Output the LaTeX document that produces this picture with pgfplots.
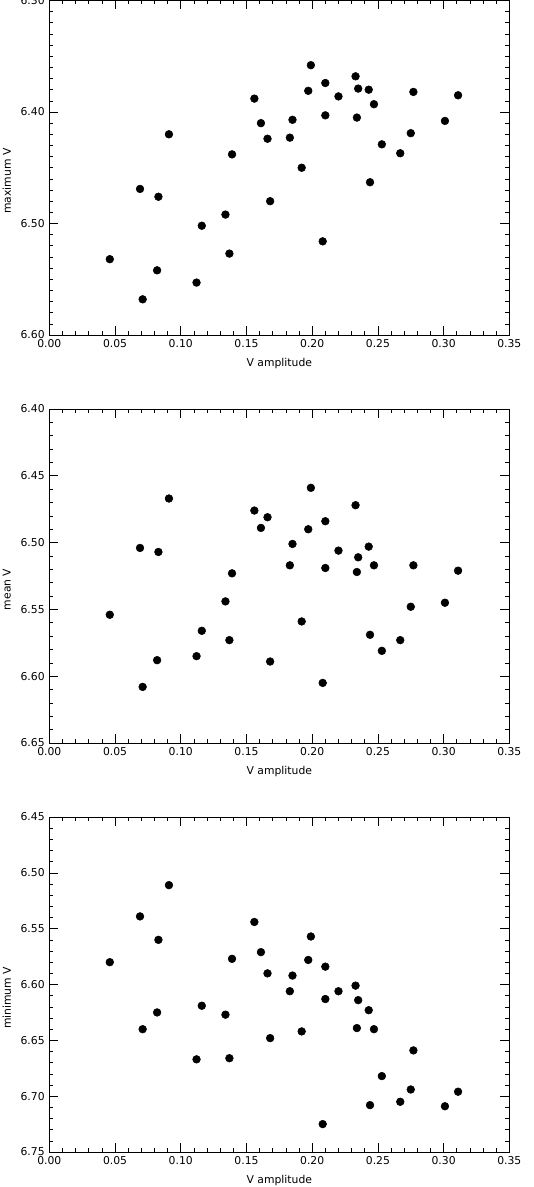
\documentclass[border=0pt]{standalone}
\usepackage{pgfplots}
\pgfplotsset{compat=1.18}
\usepackage{pgfplotstable}
\usepackage{fontspec}
\setmainfont{DejaVu Sans}

% amplitude, maximum, mean, minimum V
\pgfplotstableread{
amp    vmax   vmean  vmin
0.046  6.532  6.554  6.580
0.069  6.469  6.504  6.539
0.071  6.568  6.608  6.640
0.082  6.542  6.588  6.625
0.083  6.476  6.507  6.560
0.091  6.420  6.467  6.511
0.112  6.553  6.585  6.667
0.116  6.502  6.566  6.619
0.134  6.492  6.544  6.627
0.137  6.527  6.573  6.666
0.139  6.438  6.523  6.577
0.156  6.388  6.476  6.544
0.161  6.410  6.489  6.571
0.166  6.424  6.481  6.590
0.168  6.480  6.589  6.648
0.183  6.423  6.517  6.606
0.185  6.407  6.501  6.592
0.192  6.450  6.559  6.642
0.197  6.381  6.490  6.578
0.199  6.358  6.459  6.557
0.208  6.516  6.605  6.725
0.210  6.374  6.484  6.584
0.210  6.403  6.519  6.613
0.220  6.386  6.506  6.606
0.233  6.368  6.472  6.601
0.234  6.405  6.522  6.639
0.235  6.379  6.511  6.614
0.243  6.380  6.503  6.623
0.244  6.463  6.569  6.708
0.247  6.393  6.517  6.640
0.253  6.429  6.581  6.682
0.267  6.437  6.573  6.705
0.275  6.419  6.548  6.694
0.277  6.382  6.517  6.659
0.301  6.408  6.545  6.709
0.311  6.385  6.521  6.696
}\stardata

\pgfplotsset{
  idlpanel/.style={
    scale only axis, width=345pt, anchor=center,
    y dir=reverse, tick align=inside,
    major tick length=6.75pt, minor tick length=3pt,
    axis line style={line width=0.6pt}, every tick/.style={black,line width=0.5pt},
    xmin=0, xmax=0.35, xtick={0,0.05,...,0.35}, minor x tick num=4,
    /pgf/number format/assume math mode=true,
    xticklabel style={/pgf/number format/.cd,fixed,fixed zerofill,precision=2},
    yticklabel style={/pgf/number format/.cd,fixed,fixed zerofill,precision=2},
    scaled ticks=false,
    xlabel={V amplitude},
    xlabel style={at={(axis description cs:0.5,0)},anchor=center,yshift=-21.75pt},
    ylabel style={at={(axis description cs:-0.0924,0.46)},anchor=center},
  },
  dots/.style={only marks, mark=*, mark size=2.9pt, black},
}

\begin{document}
\begin{tikzpicture}[font=\fontsize{8.1}{10}\selectfont]
\useasboundingbox (0,0) rectangle (400.5pt,-890.25pt);

\begin{axis}[idlpanel, at={(209.5pt,-125.81pt)}, height=250.875pt,
  ymin=6.30, ymax=6.60, ytick={6.30,6.40,...,6.60}, minor y tick num=9,
  ylabel={maximum V}]
\addplot[dots] table[x=amp,y=vmax] {\stardata};
\end{axis}

\begin{axis}[idlpanel, at={(209.5pt,-432pt)}, height=250.5pt,
  ymin=6.40, ymax=6.65, ytick={6.40,6.45,...,6.65}, minor y tick num=4,
  ylabel={mean V}]
\addplot[dots] table[x=amp,y=vmean] {\stardata};
\end{axis}

\begin{axis}[idlpanel, at={(209.5pt,-738.375pt)}, height=251.25pt,
  ymin=6.45, ymax=6.75, ytick={6.45,6.50,...,6.75}, minor y tick num=4,
  ylabel={minimum V}]
\addplot[dots] table[x=amp,y=vmin] {\stardata};
\end{axis}
\end{tikzpicture}
\end{document}
